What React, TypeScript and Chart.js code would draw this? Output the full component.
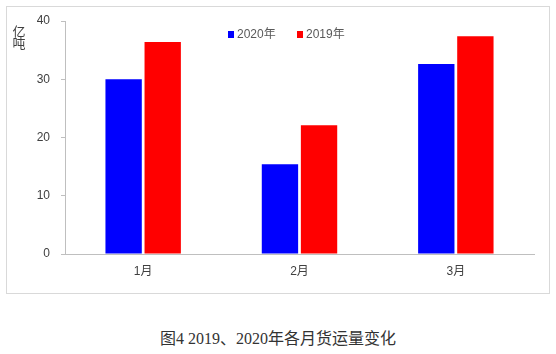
import React, { useEffect, useRef } from "react";
import { Chart, registerables } from "chart.js";

Chart.register(...registerables);

const categories = ["1月", "2月", "3月"];
const series2020 = [30.0, 15.4, 32.6];
const series2019 = [36.4, 22.1, 37.4];
const seriesLabels = ["2020年", "2019年"];
const yTicks = [0, 10, 20, 30, 40];
const yTitle = ["亿", "吨"];
const caption = "图4\u00a02019、2020年各月货运量变化";

const FONT = "'Liberation Sans', Arial, 'Noto Sans CJK SC', sans-serif";

const overlayPlugin = {
  id: "overlay",
  afterDraw(chart: any) {
    const ctx = chart.ctx;
    ctx.save();
    // y-axis title (stacked characters)
    ctx.fillStyle = "#404040";
    ctx.font = "13px 'Noto Sans CJK SC', sans-serif";
    ctx.textAlign = "center";
    ctx.textBaseline = "middle";
    yTitle.forEach((ch, i) => ctx.fillText(ch, 19, 31 + i * 12));
    // legend
    ctx.font = "12px " + FONT;
    ctx.textAlign = "left";
    const xs = [228, 297];
    chart.data.datasets.forEach((ds: any, i: number) => {
      ctx.fillStyle = ds.backgroundColor;
      ctx.fillRect(xs[i], 31, 6, 7);
      ctx.fillStyle = "#595959";
      ctx.fillText(ds.label, xs[i] + 9, 35);
    });
    ctx.restore();
  },
};

function ChartView() {
  const ref = useRef<HTMLCanvasElement>(null);
  useEffect(() => {
    const chart = new Chart(ref.current!, {
      type: "bar",
      data: {
        labels: categories,
        datasets: [
          { label: seriesLabels[0], data: series2020, backgroundColor: "#0000FF" },
          { label: seriesLabels[1], data: series2019, backgroundColor: "#FF0000" },
        ],
      },
      options: {
        responsive: false,
        animation: false,
        devicePixelRatio: 1,
        layout: { padding: { left: 0, top: 21, right: 22, bottom: 0 } },
        datasets: { bar: { categoryPercentage: 0.5, barPercentage: 0.93 } },
        plugins: { legend: { display: false }, tooltip: { enabled: false } },
        scales: {
          x: {
            grid: { display: false, drawTicks: false },
            border: { display: true, color: "#bfbfbf", width: 1 },
            ticks: { color: "#404040", font: { size: 12, family: FONT }, padding: 10 },
            afterFit: (s: any) => { s.height = 46; },
          },
          y: {
            min: 0,
            max: 40,
            afterBuildTicks: (s: any) => { s.ticks = yTicks.map((v) => ({ value: v })); },
            grid: { display: true, drawOnChartArea: false, drawTicks: true, tickLength: 4, color: "#bfbfbf" },
            border: { display: true, color: "#bfbfbf", width: 1 },
            ticks: { color: "#404040", font: { size: 12, family: FONT }, padding: 11 },
            afterFit: (s: any) => { s.width = 65; },
          },
        },
      },
      plugins: [overlayPlugin],
    });
    return () => chart.destroy();
  }, []);
  return <canvas ref={ref} width={556} height={300} style={{ position: "absolute", left: 0, top: 0, width: 556, height: 300 }} />;
}

export default function App() {
  return (
    <div style={{ position: "fixed", left: 0, top: 0, width: 556, height: 354, background: "#fff", overflow: "hidden" }}>
      <div style={{ position: "absolute", left: 6, top: 6, width: 544, height: 288, border: "1px solid #d9d9d9", boxSizing: "border-box" }} />
      <ChartView />
      <div style={{ position: "absolute", left: 0, top: 329, width: 556, textAlign: "center", fontSize: 16, lineHeight: "20px", color: "#333", fontFamily: "'Liberation Serif', 'Noto Sans CJK SC', serif" }}>
        {caption}
      </div>
    </div>
  );
}
